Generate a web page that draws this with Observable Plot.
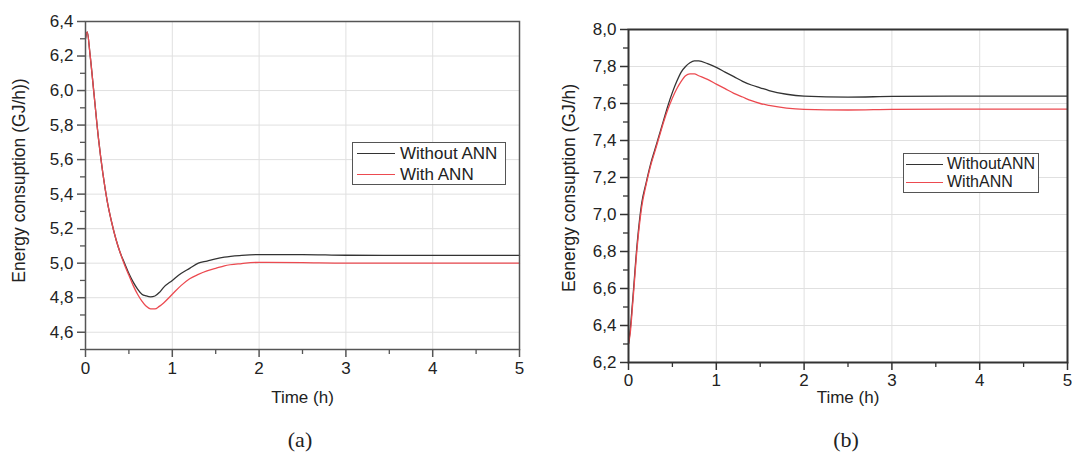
<!DOCTYPE html>
<html><head><meta charset="utf-8">
<script src="https://cdn.jsdelivr.net/npm/d3@7"></script>
<script src="https://cdn.jsdelivr.net/npm/@observablehq/plot@0.6"></script>
<style>
body{margin:0;background:#fff;width:1072px;height:453px;position:relative;overflow:hidden;font-family:"Liberation Sans",Arial,sans-serif;color:#222}
.panel{position:absolute;top:0}
.legend{position:absolute;border:1.5px solid #555;background:#fff;box-sizing:border-box}
.lrow{position:absolute;white-space:nowrap;line-height:1}
.lline{position:absolute;height:0;border-top:1.2px solid}
.cap{position:absolute;font-family:"Liberation Serif","Times New Roman",serif;font-size:22px;transform:translate(-50%,-50%)}
</style></head><body>
<div id="a" class="panel" style="left:0"></div>
<div id="b" class="panel" style="left:540px"></div>
<script>
// ---------- data ----------
const seriesNamesA = ["Without ANN", "With ANN"];
const seriesNamesB = ["WithoutANN", "WithANN"];
const seriesColors = ["#333333", "#ec4a50"];

const timeA = [0, 0.02, 0.05, 0.1, 0.15, 0.2, 0.25, 0.3, 0.35, 0.4, 0.45, 0.5, 0.55, 0.6, 0.65, 0.7, 0.75, 0.8, 0.85, 0.9, 1.0, 1.1, 1.2, 1.3, 1.4, 1.5, 1.6, 1.8, 2.0, 2.5, 3, 4, 5];
const withoutA = [6.30, 6.34, 6.22, 5.97, 5.72, 5.52, 5.36, 5.24, 5.14, 5.06, 5.00, 4.94, 4.89, 4.85, 4.82, 4.81, 4.805, 4.81, 4.83, 4.86, 4.90, 4.94, 4.97, 5.00, 5.012, 5.025, 5.035, 5.045, 5.05, 5.05, 5.046, 5.045, 5.045];
const withA    = [6.30, 6.34, 6.22, 5.97, 5.72, 5.52, 5.36, 5.24, 5.14, 5.06, 4.99, 4.93, 4.87, 4.82, 4.78, 4.75, 4.735, 4.735, 4.75, 4.77, 4.82, 4.87, 4.91, 4.935, 4.955, 4.97, 4.985, 4.998, 5.005, 5.003, 5.0, 5.0, 5.0];

const timeB = [0, 0.02, 0.05, 0.1, 0.15, 0.2, 0.25, 0.3, 0.35, 0.4, 0.45, 0.5, 0.55, 0.6, 0.65, 0.7, 0.75, 0.8, 0.9, 1.0, 1.1, 1.2, 1.3, 1.4, 1.5, 1.6, 1.8, 2.0, 2.5, 3, 4, 5];
const withoutB = [6.30, 6.38, 6.55, 6.85, 7.06, 7.17, 7.27, 7.35, 7.43, 7.51, 7.59, 7.66, 7.72, 7.77, 7.80, 7.82, 7.83, 7.83, 7.815, 7.795, 7.77, 7.745, 7.72, 7.70, 7.685, 7.67, 7.65, 7.64, 7.635, 7.638, 7.64, 7.64];
const withB    = [6.30, 6.36, 6.53, 6.83, 7.04, 7.16, 7.26, 7.34, 7.42, 7.50, 7.57, 7.63, 7.68, 7.72, 7.75, 7.76, 7.76, 7.75, 7.73, 7.705, 7.68, 7.655, 7.635, 7.615, 7.60, 7.59, 7.575, 7.568, 7.565, 7.568, 7.57, 7.57];

const xTicks = [0, 1, 2, 3, 4, 5];
const xMinor = [0.5, 1.5, 2.5, 3.5, 4.5];
const yTicksA = [4.6, 4.8, 5.0, 5.2, 5.4, 5.6, 5.8, 6.0, 6.2, 6.4];
const yMinorA = [4.5, 4.7, 4.9, 5.1, 5.3, 5.5, 5.7, 5.9, 6.1, 6.3];
const yTicksB = [6.2, 6.4, 6.6, 6.8, 7.0, 7.2, 7.4, 7.6, 7.8, 8.0];
const yMinorB = [6.3, 6.5, 6.7, 6.9, 7.1, 7.3, 7.5, 7.7, 7.9];
const xTitle = "Time (h)";
const yTitleA = "Energy consuption (GJ/h))";
const yTitleB = "Eenergy consuption (GJ/h)";
const captions = ["(a)", "(b)"];

// ---------- drawing ----------
const comma = d => d.toFixed(1).replace(".", ",");

function panel(cfg) {
  const rows = [];
  cfg.time.forEach((t, i) => {
    rows.push({t, v: cfg.s1[i], s: 0});
    rows.push({t, v: cfg.s2[i], s: 1});
  });
  const axisColor = cfg.frameColor;
  return Plot.plot({
    width: cfg.width, height: 453,
    marginLeft: cfg.ml, marginRight: cfg.mr, marginTop: cfg.mt, marginBottom: cfg.mb,
    style: {fontFamily: "'Liberation Sans', Arial, sans-serif", fontSize: "17px", color: "#222", background: "transparent", overflow: "visible"},
    x: {domain: [0, 5]},
    y: {domain: cfg.yDomain},
    marks: [
      Plot.gridX(xTicks, {stroke: "#e0e0e0", strokeOpacity: 1, strokeWidth: 1}),
      Plot.gridY(cfg.yTicks, {stroke: "#e0e0e0", strokeOpacity: 1, strokeWidth: 1}),
      Plot.line(rows.filter(d => d.s === 0), {x: "t", y: "v", stroke: seriesColors[0], strokeWidth: 1.3, curve: "monotone-x"}),
      Plot.line(rows.filter(d => d.s === 1), {x: "t", y: "v", stroke: seriesColors[1], strokeWidth: 1.3, curve: "monotone-x"}),
      Plot.frame({stroke: axisColor, strokeWidth: cfg.frameWidth}),
      Plot.axisX(xTicks, {tickSize: 8, tickPadding: cfg.xPad, stroke: axisColor, strokeWidth: 1.5, tickFormat: d => String(d), label: null, fill: "#222", fontSize: 17}),
      Plot.axisX(xMinor, {tickSize: 5, stroke: axisColor, strokeWidth: 1.3, tickFormat: () => "", label: null}),
      Plot.axisY(cfg.yTicks, {tickSize: 8, tickPadding: 4, stroke: axisColor, strokeWidth: 1.5, tickFormat: comma, label: null, fill: "#222", fontSize: 17}),
      Plot.axisY(cfg.yMinor, {tickSize: 5, stroke: axisColor, strokeWidth: 1.3, tickFormat: () => "", label: null}),
      Plot.text([xTitle], {frameAnchor: "bottom", dy: cfg.xTitleDy, fontSize: 17, fill: "#222"}),
      Plot.text([cfg.yTitle], {frameAnchor: "left", textAnchor: "middle", rotate: -90, dx: cfg.yTitleDx, dy: cfg.yTitleDy, fontSize: 17.5, fill: "#222"})
    ]
  });
}

document.getElementById("a").append(panel({
  time: timeA, s1: withoutA, s2: withA, yDomain: [4.5, 6.4], yTicks: yTicksA, yMinor: yMinorA,
  width: 540, ml: 85, mr: 21, mt: 21, mb: 104, xPad: 4, frameColor: "#555", frameWidth: 1.5,
  xTitleDy: 53, yTitle: yTitleA, yTitleDx: -66, yTitleDy: -5
}));
document.getElementById("b").append(panel({
  time: timeB, s1: withoutB, s2: withB, yDomain: [6.2, 8.0], yTicks: yTicksB, yMinor: yMinorB,
  width: 532, ml: 88, mr: 5, mt: 29, mb: 91, xPad: 3, frameColor: "#333", frameWidth: 2,
  xTitleDy: 40, yTitle: yTitleB, yTitleDx: -59, yTitleDy: -8
}));

// legends
function legend(names, box, rowsY, lineX, textX, fontSize) {
  const lg = document.createElement("div");
  lg.className = "legend";
  Object.assign(lg.style, {left: box[0] + "px", top: box[1] + "px", width: box[2] + "px", height: box[3] + "px"});
  document.body.append(lg);
  names.forEach((n, i) => {
    const ln = document.createElement("div");
    ln.className = "lline";
    Object.assign(ln.style, {left: lineX[0] + "px", top: rowsY[i] + "px", width: (lineX[1] - lineX[0]) + "px", borderColor: seriesColors[i]});
    document.body.append(ln);
    const tx = document.createElement("div");
    tx.className = "lrow";
    tx.textContent = n;
    Object.assign(tx.style, {left: textX + "px", top: (rowsY[i] - fontSize * 0.5) + "px", fontSize: fontSize + "px"});
    document.body.append(tx);
  });
}
legend(seriesNamesA, [352, 142, 154, 43], [153, 174], [357, 395], 400, 17);
legend(seriesNamesB, [903, 153, 136, 40], [164, 182], [906, 943], 947, 16);

// captions
[[captions[0], 300, 440], [captions[1], 846, 440]].forEach(([c, x, y]) => {
  const d = document.createElement("div");
  d.className = "cap"; d.textContent = c;
  d.style.left = x + "px"; d.style.top = y + "px";
  document.body.append(d);
});
</script>
</body></html>
